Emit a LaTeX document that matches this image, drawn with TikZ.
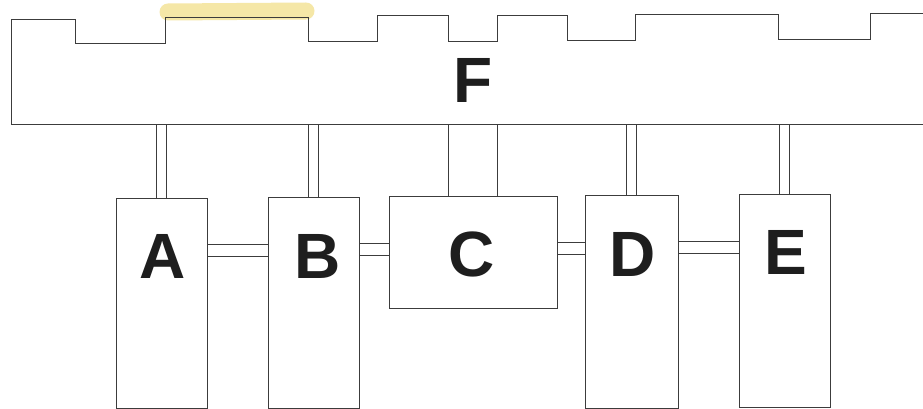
\documentclass[tikz,border=0pt]{standalone}
\usepackage{fontspec}
\setmainfont{Liberation Sans}
\definecolor{ink}{RGB}{60,60,60}
\definecolor{letter}{RGB}{30,30,30}
\definecolor{hilite}{RGB}{242,222,130}
\begin{document}
\begin{tikzpicture}[x=1pt,y=-1pt,
  outline/.style={draw=ink, line width=0.9pt},
  box/.style={outline, fill=white, rectangle, inner sep=0pt},
  lbl/.style={inner sep=0pt, text=letter, font=\fontsize{64}{64}\selectfont\bfseries},
  slink/.style={draw=ink, line width=0.9pt}]
\useasboundingbox (0,0) rectangle (923,409);
\fill[white] (0,0) rectangle (923,409);
% highlighter stroke
\draw[hilite, opacity=0.7, line width=17pt, line cap=round] (168,12) -- (306,11);
% F outline
\draw[outline] (923,124) -- (11,124) -- (11,19) -- (75,19) -- (75,43) -- (165,43) -- (165,17)
  -- (308,17) -- (308,41) -- (377,41) -- (377,15) -- (448,15) -- (448,41) -- (497,41)
  -- (497,15) -- (567,15) -- (567,40) -- (635,40) -- (635,14) -- (778,14) -- (778,39)
  -- (870,39) -- (870,13) -- (923,13);
\coordinate (Fbot) at (0,124);
\node[lbl] (F) at (473,80) {F};
% boxes
\node[box, minimum width=91pt, minimum height=210pt] (A) at (161.5,303) {};
\node[box, minimum width=91pt, minimum height=211pt] (B) at (313.5,302.5) {};
\node[box, minimum width=168pt, minimum height=112pt] (C) at (473,252) {};
\node[box, minimum width=93pt, minimum height=213pt] (D) at (631.5,301.5) {};
\node[box, minimum width=91pt, minimum height=213pt] (E) at (784.5,300.5) {};
% vertical double links to F
\foreach \b in {A,B,D,E} {
  \draw[slink] ([xshift=-4.8pt]\b.north) -- ([xshift=-4.8pt]\b.north |- Fbot);
  \draw[slink] ([xshift=4.8pt]\b.north) -- ([xshift=4.8pt]\b.north |- Fbot);
}
% single links C to F
\coordinate (c1) at (448,0);
\coordinate (c2) at (497,0);
\draw[slink] (C.north -| c1) -- (c1 |- Fbot);
\draw[slink] (C.north -| c2) -- (c2 |- Fbot);
% horizontal double links
\coordinate (h1a) at (0,244); \coordinate (h1b) at (0,256);
\coordinate (h2a) at (0,243); \coordinate (h2b) at (0,255);
\coordinate (h3a) at (0,242); \coordinate (h3b) at (0,254);
\coordinate (h4a) at (0,241); \coordinate (h4b) at (0,253);
\draw[slink] (A.east |- h1a) -- (B.west |- h1a);
\draw[slink] (A.east |- h1b) -- (B.west |- h1b);
\draw[slink] (B.east |- h2a) -- (C.west |- h2a);
\draw[slink] (B.east |- h2b) -- (C.west |- h2b);
\draw[slink] (C.east |- h3a) -- (D.west |- h3a);
\draw[slink] (C.east |- h3b) -- (D.west |- h3b);
\draw[slink] (D.east |- h4a) -- (E.west |- h4a);
\draw[slink] (D.east |- h4b) -- (E.west |- h4b);
% labels
\node[lbl] (LA) at (163,256) {A};
\node[lbl] (LB) at (318,256) {B};
\node[lbl] (LC) at (472,254) {C};
\node[lbl] (LD) at (633,254) {D};
\node[lbl] (LE) at (786,252) {E};
\end{tikzpicture}
\end{document}
